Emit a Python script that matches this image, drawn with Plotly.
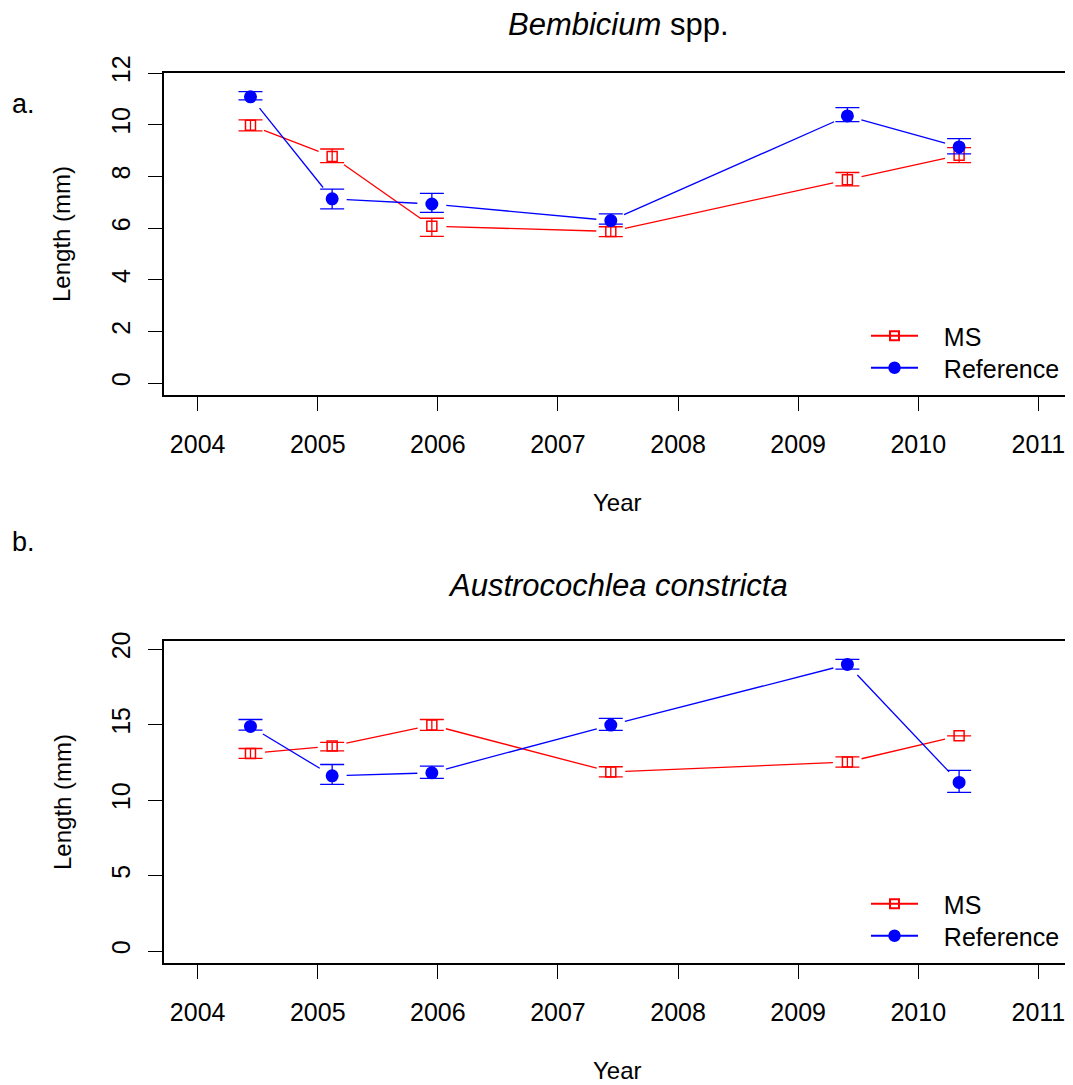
import plotly.graph_objects as go

# survey dates (decimal years)
survey_year = [2004.44, 2005.12, 2005.95, 2007.44, 2009.41, 2010.34]

# a. Bembicium spp. - mean length and upper/lower error limits (mm)
ms_a = [9.98, 8.77, 6.07, 5.87, 7.87, 8.82]
ms_a_hi = [10.19, 9.06, 6.38, 6.05, 8.15, 9.11]
ms_a_lo = [9.76, 8.53, 5.68, 5.67, 7.63, 8.53]
ref_a = [11.08, 7.13, 6.93, 6.29, 10.34, 9.14]
ref_a_hi = [11.28, 7.51, 7.34, 6.55, 10.66, 9.46]
ref_a_lo = [10.96, 6.74, 6.61, 6.15, 10.12, 8.87]

# b. Austrocochlea constricta
ms_b = [13.09, 13.58, 14.97, 11.87, 12.52, 14.26]
ms_b_hi = [13.42, 13.82, 15.34, 12.21, 12.87, 14.26]
ms_b_lo = [12.76, 13.26, 14.62, 11.54, 12.19, 14.26]
ref_b = [14.88, 11.61, 11.81, 14.97, 18.99, 11.17]
ref_b_hi = [15.34, 12.36, 12.25, 15.41, 19.32, 11.97]
ref_b_lo = [14.64, 11.04, 11.44, 14.62, 18.68, 10.51]

year_ticks = [2004, 2005, 2006, 2007, 2008, 2009, 2010, 2011]

# the page body has an 8px margin, so work in page pixels and shift
OFF = 8
W, H = 1073 - OFF, 1085 - OFF
FONT = "Liberation Sans, Arial, Helvetica, sans-serif"
RED = "#FF0000"
BLUE = "#0000FF"

# plot box in page pixels
LEFT, RIGHT = 164, 1072
PANELS = {"a": (73, 395), "b": (641, 963)}
X_RANGE = [2003.72, 2011.28]
Y_RANGE = {"a": [-0.46, 12.0], "b": [-0.79, 20.54]}
GAP = 14.5  # px gap left around points (R type="b")


def px(x):
    return (x - OFF) / W


def py(y):
    return (H - (y - OFF)) / H


def gapped(x, y, panel):
    # line segments between points, shortened at each end like R's type="b"
    top, bot = PANELS[panel]
    sx = (RIGHT - LEFT) / (X_RANGE[1] - X_RANGE[0])
    sy = (bot - top) / (Y_RANGE[panel][1] - Y_RANGE[panel][0])
    xs, ys = [], []
    for i in range(len(x) - 1):
        dx = (x[i + 1] - x[i]) * sx
        dy = (y[i + 1] - y[i]) * sy
        d = (dx ** 2 + dy ** 2) ** 0.5
        if d <= 2 * GAP:
            continue
        f = GAP / d
        xs += [x[i] + (x[i + 1] - x[i]) * f, x[i + 1] - (x[i + 1] - x[i]) * f, None]
        ys += [y[i] + (y[i + 1] - y[i]) * f, y[i + 1] - (y[i + 1] - y[i]) * f, None]
    return xs, ys


def errs(m, hi, lo):
    up = [h - v if h != l else None for v, h, l in zip(m, hi, lo)]
    dn = [v - l if h != l else None for v, h, l in zip(m, hi, lo)]
    return up, dn


fig = go.Figure()

series = {
    "a": [("MS", ms_a, ms_a_hi, ms_a_lo, RED, "square-open", 10, "legend", 336),
          ("Reference", ref_a, ref_a_hi, ref_a_lo, BLUE, "circle", 11.5, "legend2", 368)],
    "b": [("MS", ms_b, ms_b_hi, ms_b_lo, RED, "square-open", 10, "legend3", 904),
          ("Reference", ref_b, ref_b_hi, ref_b_lo, BLUE, "circle", 11.5, "legend4", 936)],
}

legend_layout = {}
for panel, xa, ya in [("a", "x", "y"), ("b", "x2", "y2")]:
    for name, m, hi, lo, col, sym, sz, leg, ly in series[panel]:
        gx, gy = gapped(survey_year, m, panel)
        fig.add_trace(go.Scatter(x=gx, y=gy, mode="lines", xaxis=xa, yaxis=ya,
                                 line=dict(color=col, width=1.3), showlegend=False,
                                 hoverinfo="skip"))
    for name, m, hi, lo, col, sym, sz, leg, ly in series[panel]:
        up, dn = errs(m, hi, lo)
        fig.add_trace(go.Scatter(
            x=survey_year, y=m, mode="markers", xaxis=xa, yaxis=ya, showlegend=False,
            marker=dict(symbol=sym, size=sz, color=col, line=dict(color=col, width=1.5)),
            error_y=dict(type="data", symmetric=False, array=up, arrayminus=dn,
                         color=col, thickness=1.3, width=12)))
    for name, m, hi, lo, col, sym, sz, leg, ly in series[panel]:
        # one legend per entry so each can be placed where the reference has it
        fig.add_trace(go.Scatter(
            x=[None], y=[None], mode="lines+markers", name="\u00a0\u00a0\u00a0" + name,
            legend=leg, xaxis=xa, yaxis=ya,
            line=dict(color=col, width=2.2),
            marker=dict(symbol=sym, size=sz - 1, color=col, line=dict(color=col, width=2))))
        legend_layout[leg] = dict(x=px(866), y=py(ly), xanchor="left", yanchor="middle",
                                  bgcolor="rgba(0,0,0,0)", itemwidth=47,
                                  font=dict(family=FONT, size=25, color="black"))

axis_common = dict(showgrid=False, zeroline=False, showline=True, mirror=True,
                   linecolor="black", linewidth=1.6, ticks="outside", ticklen=14,
                   tickwidth=1.3, tickcolor="black", automargin=False,
                   tickfont=dict(family=FONT, size=25, color="black"))


def ydom(panel):
    top, bot = PANELS[panel]
    return [py(bot), py(top)]


xdom = [px(LEFT), px(RIGHT)]
fig.update_layout(
    xaxis=dict(domain=xdom, range=X_RANGE, tickvals=year_ticks, anchor="y",
               ticklabelstandoff=12, **axis_common),
    yaxis=dict(domain=ydom("a"), range=Y_RANGE["a"], tickvals=[0, 2, 4, 6, 8, 10, 12],
               tickangle=-90, anchor="x", ticklabelstandoff=8, **axis_common),
    xaxis2=dict(domain=xdom, range=X_RANGE, tickvals=year_ticks, anchor="y2",
                ticklabelstandoff=12, **axis_common),
    yaxis2=dict(domain=ydom("b"), range=Y_RANGE["b"], tickvals=[0, 5, 10, 15, 20],
                tickangle=-90, anchor="x2", ticklabelstandoff=8, **axis_common),
    **legend_layout,
)

ann = []


def txt(x, y, text, size=24, angle=0, xanchor="center"):
    ann.append(dict(x=px(x), y=py(y), xref="paper", yref="paper", text=text,
                    showarrow=False, textangle=angle, xanchor=xanchor, yanchor="middle",
                    font=dict(family=FONT, size=size, color="black")))


txt(618, 25, "<i>Bembicium</i> spp.", size=31)
txt(618, 585, "<i>Austrocochlea constricta</i>", size=31)
txt(617, 502, "Year")
txt(617, 1070, "Year")
txt(62, 234, "Length (mm)", angle=-90)
txt(62, 802, "Length (mm)", angle=-90)
txt(10, 104, "a.", size=27, xanchor="left")
txt(10, 542, "b.", size=27, xanchor="left")

fig.update_layout(
    width=W, height=H, margin=dict(l=0, r=0, t=0, b=0),
    paper_bgcolor="white", plot_bgcolor="white",
    annotations=ann, font=dict(family=FONT),
)

fig.write_html("out.html")
